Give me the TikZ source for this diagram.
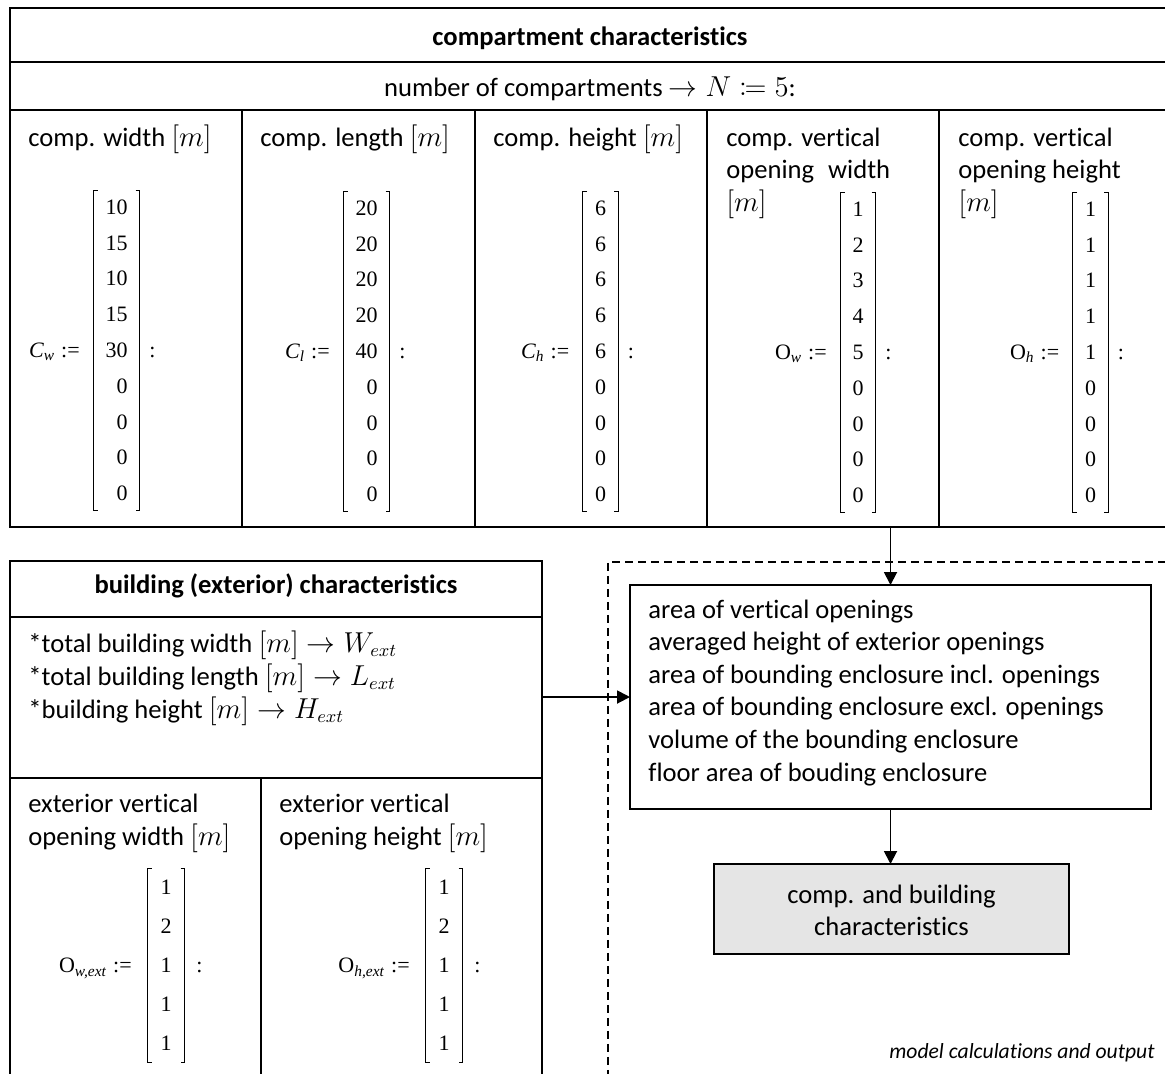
\documentclass[tikz,border=0pt]{standalone}
\usepackage{fontspec}
\setmainfont{Carlito}[Ligatures=NoCommon]
\newfontfamily\tms{Liberation Serif}
\usetikzlibrary{matrix,arrows.meta}

% text sizes
\newcommand\mainsize{\fontsize{13.3}{16.2}\selectfont}
\newcommand\matsize{\tms\fontsize{11}{13}\selectfont}
% colon-equals for definitions
\newcommand\defeq{\mathrel{\vcenter{\hbox{$:$}}\mkern-1.5mu\mathord{=}}}
% symbols in front of the vectors
\newcommand\lblC[1]{\textit{C}\textsubscript{\textit{#1}}}
\newcommand\lblO[1]{O\textsubscript{\textit{#1}}}
% square brackets around a column vector
\newcommand\vecbrackets[1]{%
  \draw[brk] ([xshift=2.2pt]#1.north west) -| (#1.south west) -- ++(2.2pt,0);
  \draw[brk] ([xshift=-2.2pt]#1.north east) -| (#1.south east) -- ++(-2.2pt,0);}

\begin{document}
\begin{tikzpicture}[x=0.5pt,y=-0.5pt,
  cell/.style={draw, line width=1pt, anchor=north west, inner sep=0pt, outer sep=0pt},
  frame/.style={draw, line width=0.75pt, dash pattern=on 4pt off 2.5pt, anchor=north west, inner sep=0pt},
  txt/.style={font=\mainsize, inner sep=0pt},
  hd/.style={txt, anchor=base west},
  ttl/.style={font=\mainsize\bfseries, inner sep=0pt, anchor=base},
  lbl/.style={font=\matsize, inner sep=0pt},
  arr/.style={line width=0.9pt, -{Triangle[length=6.5pt,width=6.5pt]}},
  brk/.style={line width=0.5pt},
  vec/.style={matrix of nodes, inner xsep=6pt, inner ysep=4.5pt,
    nodes={font=\matsize, inner sep=0pt, text height=7.4pt, text depth=0pt, anchor=east}},
  topvec/.style={vec, row sep=10.5pt},
  botvec/.style={vec, row sep=12.1pt, inner ysep=5.5pt, inner xsep=6.5pt},
]
\useasboundingbox (0,0) rectangle (1165,1073);
\clip (0,0) rectangle (1165,1073);
\fill[white] (0,0) rectangle (1165,1073);

% ---------------- compartment characteristics ----------------
\node[cell, minimum width=580pt, minimum height=259.5pt] (comp) at (10,8) {};
\node[cell, minimum width=580pt, minimum height=27pt] (comptitle) at (10,8) {};
\node[cell, minimum width=580pt, minimum height=24pt] (compn) at (10,62) {};
\node[cell, minimum width=116pt, minimum height=208.5pt] (colw) at (10,110) {};
\node[cell, minimum width=116.5pt, minimum height=208.5pt] (coll) at (242,110) {};
\node[cell, minimum width=116pt, minimum height=208.5pt] (colh) at (475,110) {};
\node[cell, minimum width=116pt, minimum height=208.5pt] (colow) at (707,110) {};
\node[cell, minimum width=115.5pt, minimum height=208.5pt] (coloh) at (939,110) {};

\node[ttl] (comptxt) at (590,45) {compartment characteristics};
\node[txt, anchor=base] (ntxt) at (590,96) {number of compartments $\rightarrow N \defeq 5$:};

\node[hd] (hw) at (28,146) {comp. width $[m]$};
\node[hd] (hl) at (260,146) {comp. length $[m]$};
\node[hd] (hh) at (493,146) {comp. height $[m]$};
\node[hd] (how1) at (726,146) {comp. vertical};
\node[hd] (how2) at (726,178.5) {opening\hspace{0.3em} width};
\node[hd] (how3) at (726,211) {$[m]$};
\node[hd] (hoh1) at (958,146) {comp. vertical};
\node[hd] (hoh2) at (958,178.5) {opening height};
\node[hd] (hoh3) at (958,211) {$[m]$};

\matrix[topvec] (Cw) at (116.5,350) {10\\15\\10\\15\\30\\0\\0\\0\\0\\};
\matrix[topvec] (Cl) at (366.5,351) {20\\20\\20\\20\\40\\0\\0\\0\\0\\};
\matrix[topvec] (Ch) at (600.5,351) {6\\6\\6\\6\\6\\0\\0\\0\\0\\};
\matrix[topvec] (Ow) at (858,352) {1\\2\\3\\4\\5\\0\\0\\0\\0\\};
\matrix[topvec] (Oh) at (1090.5,352) {1\\1\\1\\1\\1\\0\\0\\0\\0\\};
\vecbrackets{Cw}\vecbrackets{Cl}\vecbrackets{Ch}\vecbrackets{Ow}\vecbrackets{Oh}

\node[lbl, anchor=base east, xshift=-6.5pt] (Cwl) at (Cw.west |- Cw-5-1.base) {\lblC{w}\hspace{3pt}:=};
\node[lbl, anchor=base west, xshift=4.5pt] (Cwc) at (Cw.east |- Cw-5-1.base) {:};
\node[lbl, anchor=base east, xshift=-6.5pt] (Cll) at (Cl.west |- Cl-5-1.base) {\lblC{l}\hspace{3pt}:=};
\node[lbl, anchor=base west, xshift=4.5pt] (Clc) at (Cl.east |- Cl-5-1.base) {:};
\node[lbl, anchor=base east, xshift=-6.5pt] (Chl) at (Ch.west |- Ch-5-1.base) {\lblC{h}\hspace{3pt}:=};
\node[lbl, anchor=base west, xshift=4.5pt] (Chc) at (Ch.east |- Ch-5-1.base) {:};
\node[lbl, anchor=base east, xshift=-6.5pt] (Owl) at (Ow.west |- Ow-5-1.base) {\lblO{w}\hspace{3pt}:=};
\node[lbl, anchor=base west, xshift=4.5pt] (Owc) at (Ow.east |- Ow-5-1.base) {:};
\node[lbl, anchor=base east, xshift=-6.5pt] (Ohl) at (Oh.west |- Oh-5-1.base) {\lblO{h}\hspace{3pt}:=};
\node[lbl, anchor=base west, xshift=4.5pt] (Ohc) at (Oh.east |- Oh-5-1.base) {:};

% ---------------- building (exterior) characteristics ----------------
\node[cell, minimum width=266pt, minimum height=264.5pt] (bldg) at (10,561) {};
\node[cell, minimum width=266pt, minimum height=28pt] (bldgtitle) at (10,561) {};
\node[cell, minimum width=266pt, minimum height=80.5pt] (bldgdims) at (10,617) {};
\node[cell, minimum width=125.5pt, minimum height=156pt] (extw) at (10,778) {};
\node[cell, minimum width=140.5pt, minimum height=156pt] (exth) at (261,778) {};

\node[ttl] (bldgtxt) at (276,593) {building (exterior) characteristics};
\node[hd] (dw) at (28,652) {*total building width $[m] \rightarrow W_{ext}$};
\node[hd] (dl) at (28,685) {*total building length $[m] \rightarrow L_{ext}$};
\node[hd] (dh) at (28,718) {*building height $[m] \rightarrow H_{ext}$};
\node[hd] (ew1) at (28,812) {exterior vertical};
\node[hd] (ew2) at (28,845) {opening width $[m]$};
\node[hd] (eh1) at (279,812) {exterior vertical};
\node[hd] (eh2) at (279,845) {opening height $[m]$};

\matrix[botvec] (Owe) at (166,965.5) {1\\2\\1\\1\\1\\};
\matrix[botvec] (Ohe) at (444,965.5) {1\\2\\1\\1\\1\\};
\vecbrackets{Owe}\vecbrackets{Ohe}
\node[lbl, anchor=base east, xshift=-7.5pt] (Owel) at (Owe.west |- Owe-3-1.base) {\lblO{w,ext}\hspace{3pt}:=};
\node[lbl, anchor=base west, xshift=5.5pt] (Owec) at (Owe.east |- Owe-3-1.base) {:};
\node[lbl, anchor=base east, xshift=-7.5pt] (Ohel) at (Ohe.west |- Ohe-3-1.base) {\lblO{h,ext}\hspace{3pt}:=};
\node[lbl, anchor=base west, xshift=5.5pt] (Ohec) at (Ohe.east |- Ohe-3-1.base) {:};

% ---------------- model calculations and output ----------------
\node[frame, minimum width=290pt, minimum height=264.5pt] (model) at (607,561) {};
\node[cell, minimum width=260.5pt, minimum height=112pt] (calc) at (630,585) {};
\foreach \t [count=\i from 0] in {area of vertical openings,
  averaged height of exterior openings,
  area of bounding enclosure incl. openings,
  area of bounding enclosure excl. openings,
  volume of the bounding enclosure,
  floor area of bouding enclosure}
  \node[hd] (calc\i) at (648,618+32.6*\i) {\t};

\node[cell, fill=gray!20, minimum width=177.5pt, minimum height=45pt] (result) at (714,864) {};
\node[txt, anchor=base] (res1) at (891.5,903) {comp. and building};
\node[txt, anchor=base] (res2) at (891.5,935) {characteristics};

\node[font=\fontsize{10.8}{13}\selectfont\itshape, inner sep=0pt, anchor=base east] (modeltxt) at (1155,1058) {model calculations and output};

% connectors
\draw[arr] (calc.north |- comp.south) -- (calc.north);
\draw[arr] (calc.west -| bldg.east) -- (calc.west);
\draw[arr] (calc.south) -- (calc.south |- result.north);
\end{tikzpicture}
\end{document}
